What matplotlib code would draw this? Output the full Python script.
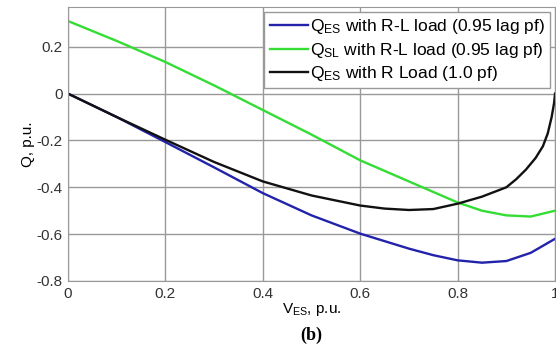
import matplotlib
matplotlib.use('Agg')
import matplotlib.pyplot as plt

# data
v_blue = [0, 0.1, 0.2, 0.3, 0.4, 0.5, 0.6, 0.7, 0.75, 0.8, 0.85, 0.9, 0.95, 1.0]
q_blue = [0, -0.10, -0.207, -0.315, -0.425, -0.52, -0.598, -0.662, -0.69, -0.712, -0.722, -0.715, -0.68, -0.62]

v_green = [0, 0.1, 0.2, 0.3, 0.4, 0.5, 0.6, 0.7, 0.75, 0.8, 0.85, 0.9, 0.95, 1.0]
q_green = [0.31, 0.225, 0.135, 0.035, -0.07, -0.175, -0.285, -0.375, -0.42, -0.465, -0.50, -0.52, -0.525, -0.50]

v_black = [0, 0.1, 0.2, 0.3, 0.4, 0.5, 0.6, 0.65, 0.7, 0.75, 0.8, 0.85, 0.9, 0.92,
           0.94, 0.96, 0.975, 0.985, 0.993, 0.998, 1.0]
q_black = [0, -0.10, -0.197, -0.292, -0.375, -0.435, -0.478, -0.491, -0.497, -0.493, -0.47,
           -0.44, -0.40, -0.366, -0.325, -0.275, -0.225, -0.17, -0.10, -0.04, 0]

labels = [r'Q$_{ES}$ with R-L load (0.95 lag pf)',
          r'Q$_{SL}$ with R-L load (0.95 lag pf)',
          r'Q$_{ES}$ with R Load (1.0 pf)']

plt.rcParams['font.family'] = ['Liberation Sans', 'DejaVu Sans']
plt.rcParams['mathtext.fontset'] = 'custom'
plt.rcParams['mathtext.rm'] = 'Liberation Sans'
plt.rcParams['mathtext.it'] = 'Liberation Sans'

fig = plt.figure(figsize=(5.56, 3.49), dpi=100)
ax = fig.add_axes([0.1223, 0.195, 0.876, 0.785])

ax.plot(v_blue, q_blue, color='#2222aa', lw=1.7, label=labels[0])
ax.plot(v_green, q_green, color='#33dd33', lw=1.7, label=labels[1])
ax.plot(v_black, q_black, color='#111111', lw=1.7, label=labels[2])

ax.set_xlim(0, 1)
ax.set_ylim(-0.8, 0.37)
ax.set_xticks([0, 0.2, 0.4, 0.6, 0.8, 1])
ax.set_xticklabels(['0', '0.2', '0.4', '0.6', '0.8', '1'])
ax.set_yticks([-0.8, -0.6, -0.4, -0.2, 0, 0.2])
ax.set_yticklabels(['-0.8', '-0.6', '-0.4', '-0.2', '0', '0.2'])
ax.grid(True, color='#999999', lw=1.0)
ax.tick_params(labelsize=11, colors='#333333', length=0, pad=4)
for s in ax.spines.values():
    s.set_color('#999999')

ax.set_xlabel(r'V$_{ES}$, p.u.', fontsize=11, labelpad=0)
ax.set_ylabel('Q, p.u.', fontsize=11, labelpad=1)

leg = ax.legend(loc='upper right', fontsize=12.5, handlelength=2.2, handletextpad=0.1,
                borderpad=0.3, labelspacing=0.25, fancybox=False, framealpha=1,
                edgecolor='#999999', borderaxespad=0.3)

fig.text(0.56, 0.04, '(b)', fontsize=13, fontweight='bold', family='Liberation Serif',
         ha='center', va='center')

fig.savefig('out.png', dpi=100)
